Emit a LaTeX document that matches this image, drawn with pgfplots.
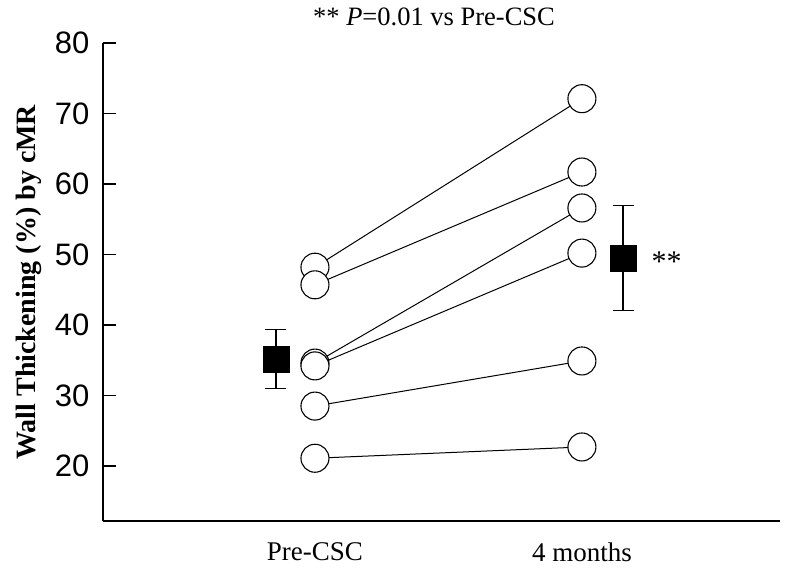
\documentclass[border=0pt]{standalone}
\usepackage{pgfplots}
\pgfplotsset{compat=1.18}
\usepackage{fontspec}
\setmainfont{Liberation Serif}
\newfontfamily\arialfont{Liberation Sans}
\begin{document}
\begin{tikzpicture}
\begin{axis}[
  name=ax,
  scale only axis,
  width=677pt, height=478pt,
  xmin=0.206, xmax=2.742,
  ymin=12.2, ymax=80,
  axis lines*=left,
  axis line style={line width=1.1pt},
  xtick={1,2},
  xticklabels={Pre-CSC,4 months},
  x tick style={draw=none},
  xticklabel style={font=\fontsize{27}{30}\selectfont, yshift=-18pt},
  ytick={20,30,40,50,60,70,80},
  ytick pos=left,
  ytick align=inside,
  major tick length=13pt,
  y tick style={line width=1.1pt, black},
  yticklabel style={font=\arialfont\fontsize{31}{34}\selectfont, xshift=-10pt},
  /pgf/number format/assume math mode=true,
  ylabel={\textbf{Wall Thickening (\%) by cMR}},
  ylabel style={font=\fontsize{28}{30}\selectfont, yshift=6pt},
  clip=false,
  subj/.style={black, line width=1pt, mark=*, mark size=14pt, mark options={fill=white, draw=black, line width=1.1pt}},
]
% individual subjects
\addplot[subj] coordinates {(1,48.2) (2,72.1)};
\addplot[subj] coordinates {(1,45.7) (2,61.7)};
\addplot[subj] coordinates {(1,34.6) (2,56.6)};
\addplot[subj] coordinates {(1,34.2) (2,50.2)};
\addplot[subj] coordinates {(1,28.5) (2,34.9)};
\addplot[subj] coordinates {(1,21.1) (2,22.7)};
% means with error bars
\addplot[black, only marks, mark=square*, mark size=13pt,
  error bars/.cd, y dir=both, y explicit,
  error bar style={line width=1.1pt},
  error mark options={rotate=90, mark size=10.5pt, line width=1.1pt}]
  coordinates {(0.854,35.2) +- (0,4.15) (2.154,49.5) +- (0,7.4)};
\node[anchor=west, font=\fontsize{30}{32}\selectfont] at (axis cs:2.154,49.0) [xshift=25pt] {**};
\node[font=\fontsize{26.5}{30}\selectfont] at (axis cs:1.446,80) [yshift=26pt] {** \textit{P}=0.01 vs Pre-CSC};
\end{axis}
\pgfresetboundingbox
\path[use as bounding box] ([xshift=-103pt,yshift=-50pt]ax.south west) rectangle ([xshift=7pt,yshift=43pt]ax.north east);
\end{tikzpicture}
\end{document}
